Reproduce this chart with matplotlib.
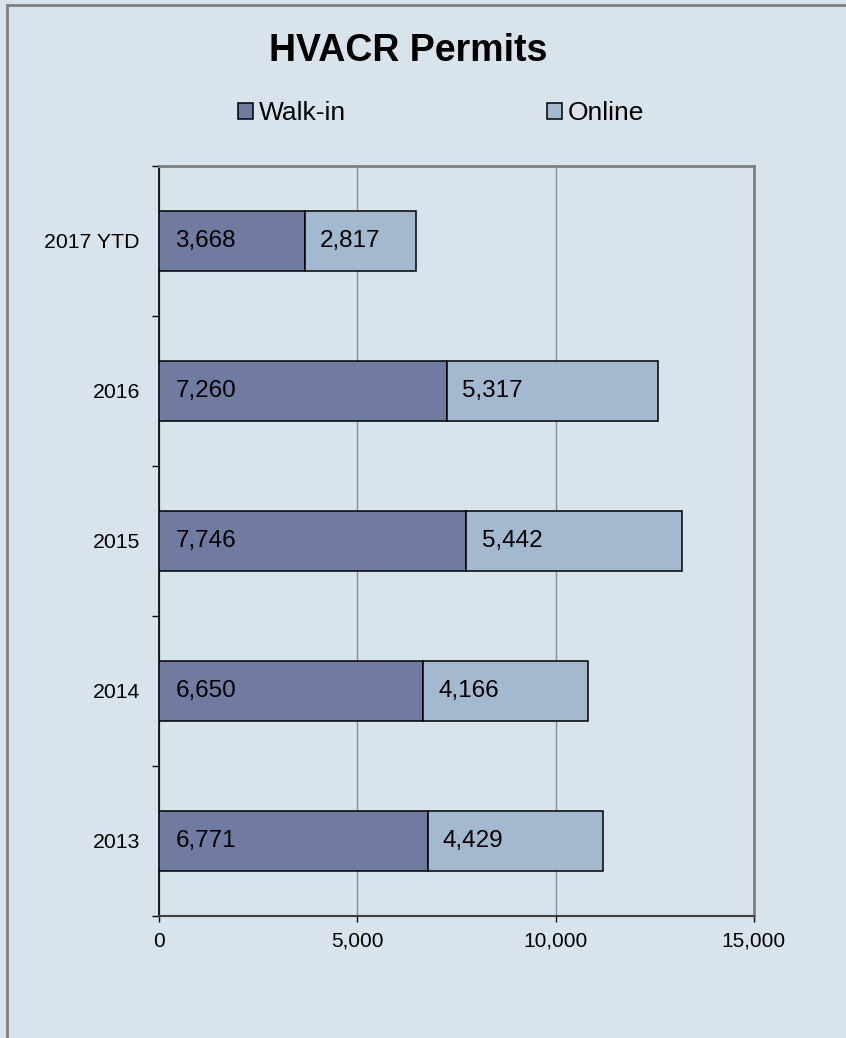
import matplotlib.pyplot as plt
from matplotlib.patches import Patch
from matplotlib.lines import Line2D

# Dados
anos = ['2013', '2014', '2015', '2016', '2017 YTD']
walkin = [6771, 6650, 7746, 7260, 3668]
online = [4429, 4166, 5442, 5317, 2817]
xticks = [0, 5000, 10000, 15000]

cor_walk = '#717ba2'
cor_online = '#a3b9d0'
fundo = '#d9e3ec'

plt.rcParams['font.family'] = ['Liberation Sans', 'DejaVu Sans']

fig = plt.figure(figsize=(8.46, 10.38), dpi=100)
fig.patch.set_facecolor(fundo)
ax = fig.add_axes([159.3/846, 1 - 916/1038, (753.7 - 159.3)/846, (916 - 166)/1038])
ax.set_facecolor(fundo)

pos = list(range(len(anos)))
ax.barh(pos, walkin, height=0.4, color=cor_walk, edgecolor='black', linewidth=1.1, zorder=3)
ax.barh(pos, online, left=walkin, height=0.4, color=cor_online, edgecolor='black', linewidth=1.1, zorder=3)

# Labels nas barras
for i in pos:
    ax.annotate(f'{walkin[i]:,}', (0, i), xytext=(11.5, 0), textcoords='offset points',
                ha='left', va='center', fontsize=17.5, zorder=4)
    ax.annotate(f'{online[i]:,}', (walkin[i], i), xytext=(11, 0), textcoords='offset points',
                ha='left', va='center', fontsize=17.5, zorder=4)

ax.set_xlim(0, 15000)
ax.set_ylim(-0.5, len(anos) - 0.5)
ax.set_xticks(xticks)
ax.set_xticklabels([f'{v:,}' for v in xticks], fontsize=15)
ax.set_yticks(pos)
ax.set_yticklabels(anos, fontsize=15.3)
ax.set_yticks([p - 0.5 for p in range(len(anos) + 1)], minor=True)
ax.tick_params(axis='y', which='major', length=0, pad=14)
ax.tick_params(axis='y', which='minor', length=5, width=1, color='black', direction='out')
ax.tick_params(axis='x', length=4.5, width=1, pad=7, direction='out')

ax.grid(axis='x', color='#8c8c8c', linewidth=1, zorder=1)
ax.spines['top'].set_color('#808080')
ax.spines['right'].set_color('#808080')
ax.spines['top'].set_linewidth(2)
ax.spines['right'].set_linewidth(2)
ax.spines['left'].set_color('black')
ax.spines['bottom'].set_color('#404040')
ax.spines['left'].set_linewidth(1.2)
ax.spines['bottom'].set_linewidth(1.5)

fig.text(408/846, 1 - 51/1038, 'HVACR Permits', ha='center', va='center', fontsize=27, fontweight='bold')

handles = [Patch(facecolor=cor_walk, edgecolor='black', linewidth=1.1, label='Walk-in'),
           Patch(facecolor=cor_online, edgecolor='black', linewidth=1.1, label='Online')]
fig.legend(handles=handles, loc='center', bbox_to_anchor=(441/846, 1 - 113/1038), ncol=2,
           frameon=False, fontsize=19, handlelength=0.57, handleheight=0.57,
           handletextpad=0.23, columnspacing=7.6)

# Borda da figura
fig.add_artist(Line2D([7/846, 7/846], [0, 1 - 4.5/1038], color='#808080', linewidth=2, transform=fig.transFigure))
fig.add_artist(Line2D([7/846, 1], [1 - 4.5/1038, 1 - 4.5/1038], color='#808080', linewidth=2, transform=fig.transFigure))

plt.savefig('out.png', dpi=100, facecolor=fundo)
